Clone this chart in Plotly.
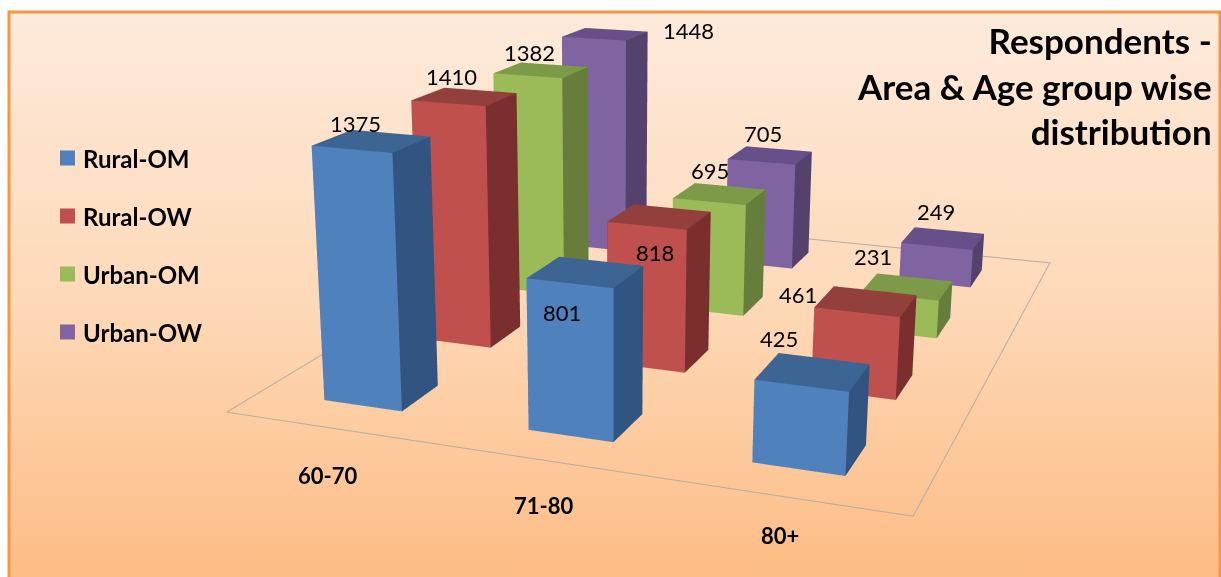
import plotly.graph_objects as go
import base64
import math

categories = ["60-70", "71-80", "80+"]
series_names = ["Rural-OM", "Rural-OW", "Urban-OM", "Urban-OW"]
rural_om = [1375, 801, 425]
rural_ow = [1410, 818, 461]
urban_om = [1382, 695, 231]
urban_ow = [1448, 705, 249]
all_series = [rural_om, rural_ow, urban_om, urban_ow]
front = ["#4f81bd", "#c0504d", "#9bbb59", "#8064a2"]
top = ["#3d6593", "#93403d", "#7c9a47", "#66508a"]
side = ["#325480", "#7a2f2e", "#667d3b", "#54426d"]
W, D = 0.195, 0.19

FLOORX = [-0.52, 2.53]
FLOORY = [-0.5, 3.5]
XR = [-1.05, 2.95]
YR = [-1.1, 4.1]
ZR = [-100, 1600]

# pixel nudges of the value labels, by category then series
label_shift = [[(-16, -18), (-13, -20), (-12, -18), (83, -4)],
               [(-24, 40), (-5, 36), (-10, -23), (-7, -22)],
               [(-34, -33), (-68, -7), (-34, -30), (-7, -27)]]
cat_shift = [(61, 4), (52, -2), (40, -13)]

H = 1466
OFF = 445
def py(p):
    return 1 - (p + OFF) / H

fig = go.Figure()
annots = []
for s, vals in enumerate(all_series):
    for c, v in enumerate(vals):
        x0, x1 = c - W, c + W
        y0, y1 = s - D, s + D
        xs = [x0, x1, x1, x0, x0, x1, x1, x0]
        ys = [y0, y0, y1, y1, y0, y0, y1, y1]
        zs = [0, 0, 0, 0, v, v, v, v]
        i = [0, 1, 1, 4, 4, 0, 0, 3, 3, 0, 0]
        j = [1, 2, 6, 5, 6, 3, 7, 2, 6, 1, 5]
        k = [5, 6, 5, 6, 7, 7, 4, 6, 7, 2, 4]
        fc = [front[s], side[s], side[s], top[s], top[s], side[s], side[s], side[s], side[s], side[s], front[s]]
        fig.add_trace(go.Mesh3d(x=xs, y=ys, z=zs, i=i, j=j, k=k, facecolor=fc, flatshading=True,
                                lighting=dict(ambient=1, diffuse=0, specular=0, roughness=1, fresnel=0),
                                hoverinfo="skip", showscale=False))
        sx, sy = label_shift[c][s]
        annots.append(dict(x=c, y=s, z=v, text=str(v), showarrow=False, xshift=sx, yshift=-sy,
                           font=dict(family="Lato, sans-serif", size=22, color="#000")))

fig.add_trace(go.Scatter3d(x=[FLOORX[0], FLOORX[1], FLOORX[1], FLOORX[0], FLOORX[0]],
                           y=[FLOORY[0], FLOORY[0], FLOORY[1], FLOORY[1], FLOORY[0]], z=[0] * 5,
                           mode="lines", line=dict(color="#b5ada0", width=2), hoverinfo="skip", showlegend=False))

for c, name in enumerate(categories):
    sx, sy = cat_shift[c]
    annots.append(dict(x=c, y=-1.05, z=0, text="<b>%s</b>" % name, showarrow=False, xshift=sx, yshift=-sy,
                       font=dict(family="Lato, sans-serif", size=22, color="#000")))

svg = ('<svg xmlns="http://www.w3.org/2000/svg" width="1221" height="577"><defs><linearGradient id="g" x1="0" y1="0" x2="0" y2="1">'
       '<stop offset="0" stop-color="#feeadb"/><stop offset="0.5" stop-color="#fdd9b8"/><stop offset="1" stop-color="#fdbb83"/></linearGradient></defs>'
       '<rect x="9" y="12" width="1211" height="575" fill="url(#g)" stroke="#f79646" stroke-width="3"/></svg>')
bg = "data:image/svg+xml;base64," + base64.b64encode(svg.encode()).decode()

noax = dict(visible=False, showgrid=False, zeroline=False, showbackground=False)
shapes = []
page_annots = []
ly = [158, 216, 274, 332]
for s, name in enumerate(series_names):
    shapes.append(dict(type="rect", xref="paper", yref="paper", x0=60 / 1221, x1=75 / 1221,
                       y0=py(ly[s] + 7.5), y1=py(ly[s] - 7.5), fillcolor=front[s], line=dict(width=0)))
    page_annots.append(dict(xref="paper", yref="paper", x=81 / 1221, y=py(ly[s]), xanchor="left", yanchor="middle",
                            text="<b>%s</b>" % name, showarrow=False,
                            font=dict(family="Lato, sans-serif", size=24, color="#000")))
page_annots.append(dict(xref="paper", yref="paper", x=1214 / 1221, y=py(17), xanchor="right", yanchor="top",
                        align="right", showarrow=False,
                        text="<b>Respondents -<br>Area &amp; Age group wise<br>distribution</b>",
                        font=dict(family="Lato, sans-serif", size=35, color="#000")))

yaw, elev, dist = math.radians(21.2), math.radians(17), 4.38
look = (-0.1425, -0.1185, -0.197)
eye = (look[0] + dist * math.sin(yaw) * math.cos(elev),
       look[1] - dist * math.cos(yaw) * math.cos(elev),
       look[2] + dist * math.sin(elev))

fig.update_layout(
    width=1221, height=H, margin=dict(l=0, r=0, t=0, b=0), showlegend=False,
    paper_bgcolor="rgba(0,0,0,0)", plot_bgcolor="rgba(0,0,0,0)",
    images=[dict(source=bg, xref="paper", yref="paper", x=0, y=py(0), sizex=1, sizey=577 / H, sizing="stretch", layer="below", xanchor="left", yanchor="top")],
    shapes=shapes, annotations=page_annots,
    scene=dict(xaxis=dict(noax, range=XR), yaxis=dict(noax, range=YR), zaxis=dict(noax, range=ZR),
               bgcolor="rgba(0,0,0,0)", aspectmode="manual", aspectratio=dict(x=2.0, y=2.414, z=0.72),
               camera=dict(eye=dict(x=eye[0], y=eye[1], z=eye[2]), center=dict(x=look[0], y=look[1], z=look[2]), up=dict(x=0, y=0, z=1)),
               domain=dict(x=[0, 1], y=[0, 1]), annotations=annots),
)
fig.write_html("out.html", config=dict(displayModeBar=False),
               post_script="document.body.style.margin='0';document.body.style.overflow='hidden';document.querySelector('.plotly-graph-div').style.marginTop='-%dpx';" % OFF)
